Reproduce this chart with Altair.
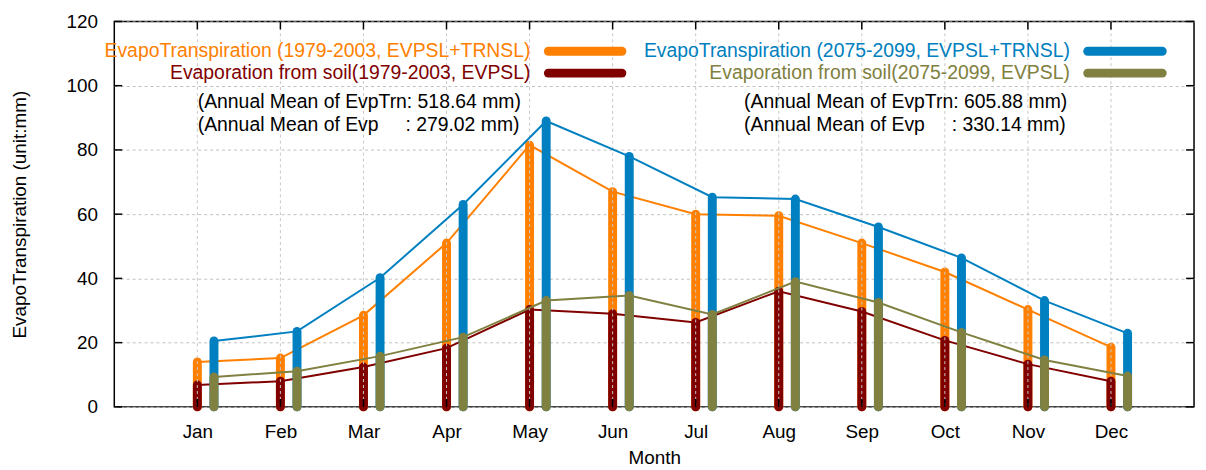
import altair as alt
import pandas as pd

months = ["Jan", "Feb", "Mar", "Apr", "May", "Jun", "Jul", "Aug", "Sep", "Oct", "Nov", "Dec"]
month_num = list(range(1, 13))
et_old = [14.0, 15.2, 28.5, 51.0, 81.5, 67.0, 60.0, 59.5, 51.0, 42.0, 30.3, 18.6]
ev_old = [6.8, 8.0, 12.4, 18.3, 30.3, 29.0, 26.3, 36.0, 29.7, 20.7, 13.3, 8.0]
et_new = [20.5, 23.5, 40.2, 63.0, 89.0, 78.0, 65.3, 64.7, 56.0, 46.4, 33.1, 22.9]
ev_new = [9.3, 11.1, 15.8, 21.7, 33.1, 34.7, 28.8, 39.0, 32.5, 23.2, 14.6, 9.6]
y_ticks = [0, 20, 40, 60, 80, 100, 120]

series_names = [
    "EvapoTranspiration (1979-2003, EVPSL+TRNSL)",
    "Evaporation from soil(1979-2003, EVPSL)",
    "EvapoTranspiration (2075-2099, EVPSL+TRNSL)",
    "Evaporation from soil(2075-2099, EVPSL)",
]
series_vals = [et_old, ev_old, et_new, ev_new]
series_shift = [0.0, 0.0, 0.2, 0.2]
colors = ["#ff8000", "#800000", "#0080c0", "#808040"]
annual_text = [
    ["(Annual Mean of EvpTrn: 518.64 mm)", "(Annual Mean of Evp\u00a0\u00a0\u00a0\u00a0\u00a0: 279.02 mm)"],
    ["(Annual Mean of EvpTrn: 605.88 mm)", "(Annual Mean of Evp\u00a0\u00a0\u00a0\u00a0\u00a0: 330.14 mm)"],
]

FONT = "Liberation Sans"
W, H = 1087, 388

rows = []
for name, vals, sh in zip(series_names, series_vals, series_shift):
    for m, v in zip(month_num, vals):
        rows.append({"s": name, "m": m, "x": m + sh, "v": v})
df = pd.DataFrame(rows)

xscale = alt.Scale(domain=[0, 13], nice=False, zero=False)
yscale = alt.Scale(domain=[0, 120], nice=False)
label_expr = "[" + ",".join("'" + m + "'" for m in months) + "][datum.value - 1]"

x_axis = alt.Axis(values=month_num, labelExpr=label_expr, grid=False, ticks=False, domain=False,
                  title="Month", labelFontSize=19, titleFontSize=19, labelFont=FONT, titleFont=FONT,
                  labelColor="black", titleColor="black", titleFontWeight="normal", labelPadding=16,
                  titlePadding=7)
y_axis = alt.Axis(values=y_ticks, grid=True, gridDash=[3, 3], gridColor="#c0c0c0", gridWidth=1,
                  ticks=False, domain=False, title="EvapoTranspiration (unit:mm)",
                  labelFontSize=19, titleFontSize=19, labelFont=FONT, titleFont=FONT,
                  labelColor="black", titleColor="black", titleFontWeight="normal", labelPadding=17,
                  titlePadding=37)

base = alt.Chart(df)

# axes carrier (invisible)
axes_layer = base.mark_point(opacity=0).encode(
    x=alt.X("x:Q", scale=xscale, axis=x_axis),
    y=alt.Y("v:Q", scale=yscale, axis=y_axis),
)

layers = [axes_layer]

def bar_layer(name, color):
    return base.transform_filter(alt.datum.s == name).mark_rule(
        strokeWidth=9, strokeCap="round", color=color
    ).encode(x=alt.X("x:Q", scale=xscale), y=alt.Y("v:Q", scale=yscale), y2=alt.datum(0))

def line_layer(name, color):
    return base.transform_filter(alt.datum.s == name).mark_line(
        strokeWidth=2, color=color
    ).encode(x=alt.X("x:Q", scale=xscale), y=alt.Y("v:Q", scale=yscale))

for i in range(2):
    layers.append(bar_layer(series_names[i], colors[i]))
    layers.append(line_layer(series_names[i], colors[i]))

mdf = pd.DataFrame({"m": month_num})
ydf = pd.DataFrame({"v": y_ticks})

# vertical grid drawn in front of the old-period bars
layers.append(alt.Chart(mdf).mark_rule(color="#c8c8c8", strokeWidth=1, strokeDash=[3, 3]).encode(
    x=alt.X("m:Q", scale=xscale), y=alt.value(0), y2=alt.value(H)))

for i in range(2, 4):
    layers.append(bar_layer(series_names[i], colors[i]))
    layers.append(line_layer(series_names[i], colors[i]))

# inward tick marks on all four sides
tick_style = dict(color="black", strokeWidth=1.5)
layers.append(alt.Chart(ydf).mark_rule(**tick_style).encode(
    y=alt.Y("v:Q", scale=yscale), x=alt.value(0), x2=alt.value(8)))
layers.append(alt.Chart(ydf).mark_rule(**tick_style).encode(
    y=alt.Y("v:Q", scale=yscale), x=alt.value(W - 8), x2=alt.value(W)))
layers.append(alt.Chart(mdf).mark_rule(**tick_style).encode(
    x=alt.X("m:Q", scale=xscale), y=alt.value(H - 8), y2=alt.value(H)))
layers.append(alt.Chart(mdf).mark_rule(**tick_style).encode(
    x=alt.X("m:Q", scale=xscale), y=alt.value(0), y2=alt.value(8)))

# legend (two columns, label to the left of the sample line)
leg_text_x = [419, 962]
leg_line_x = [(437, 511), (980, 1055)]
leg_y = [30, 52]
for i, (name, color) in enumerate(zip(series_names, colors)):
    col = i // 2
    row = i % 2
    one = pd.DataFrame({"t": [name]})
    layers.append(alt.Chart(one).mark_text(
        align="right", baseline="middle", fontSize=19.5, font=FONT, color=color
    ).encode(text="t:N", x=alt.value(leg_text_x[col]), y=alt.value(leg_y[row])))
    layers.append(alt.Chart(one).mark_rule(
        strokeWidth=9, strokeCap="round", color=color
    ).encode(x=alt.value(leg_line_x[col][0]), x2=alt.value(leg_line_x[col][1]), y=alt.value(leg_y[row])))

ann_x = [84, 634]
ann_y = [81, 104]
for col in range(2):
    for row in range(2):
        one = pd.DataFrame({"t": [annual_text[col][row]]})
        layers.append(alt.Chart(one).mark_text(
            align="left", baseline="middle", fontSize=19.5, font=FONT, color="black"
        ).encode(text="t:N", x=alt.value(ann_x[col]), y=alt.value(ann_y[row])))

chart = alt.layer(*layers).properties(
    width=W, height=H,
    autosize=alt.AutoSizeParams(type="none"),
    padding={"left": 107, "top": 12, "right": 4, "bottom": 62},
    background="white",
).configure_view(stroke="black", strokeWidth=1.5)

chart.save("out.html", embed_options={"renderer": "svg", "actions": False})
